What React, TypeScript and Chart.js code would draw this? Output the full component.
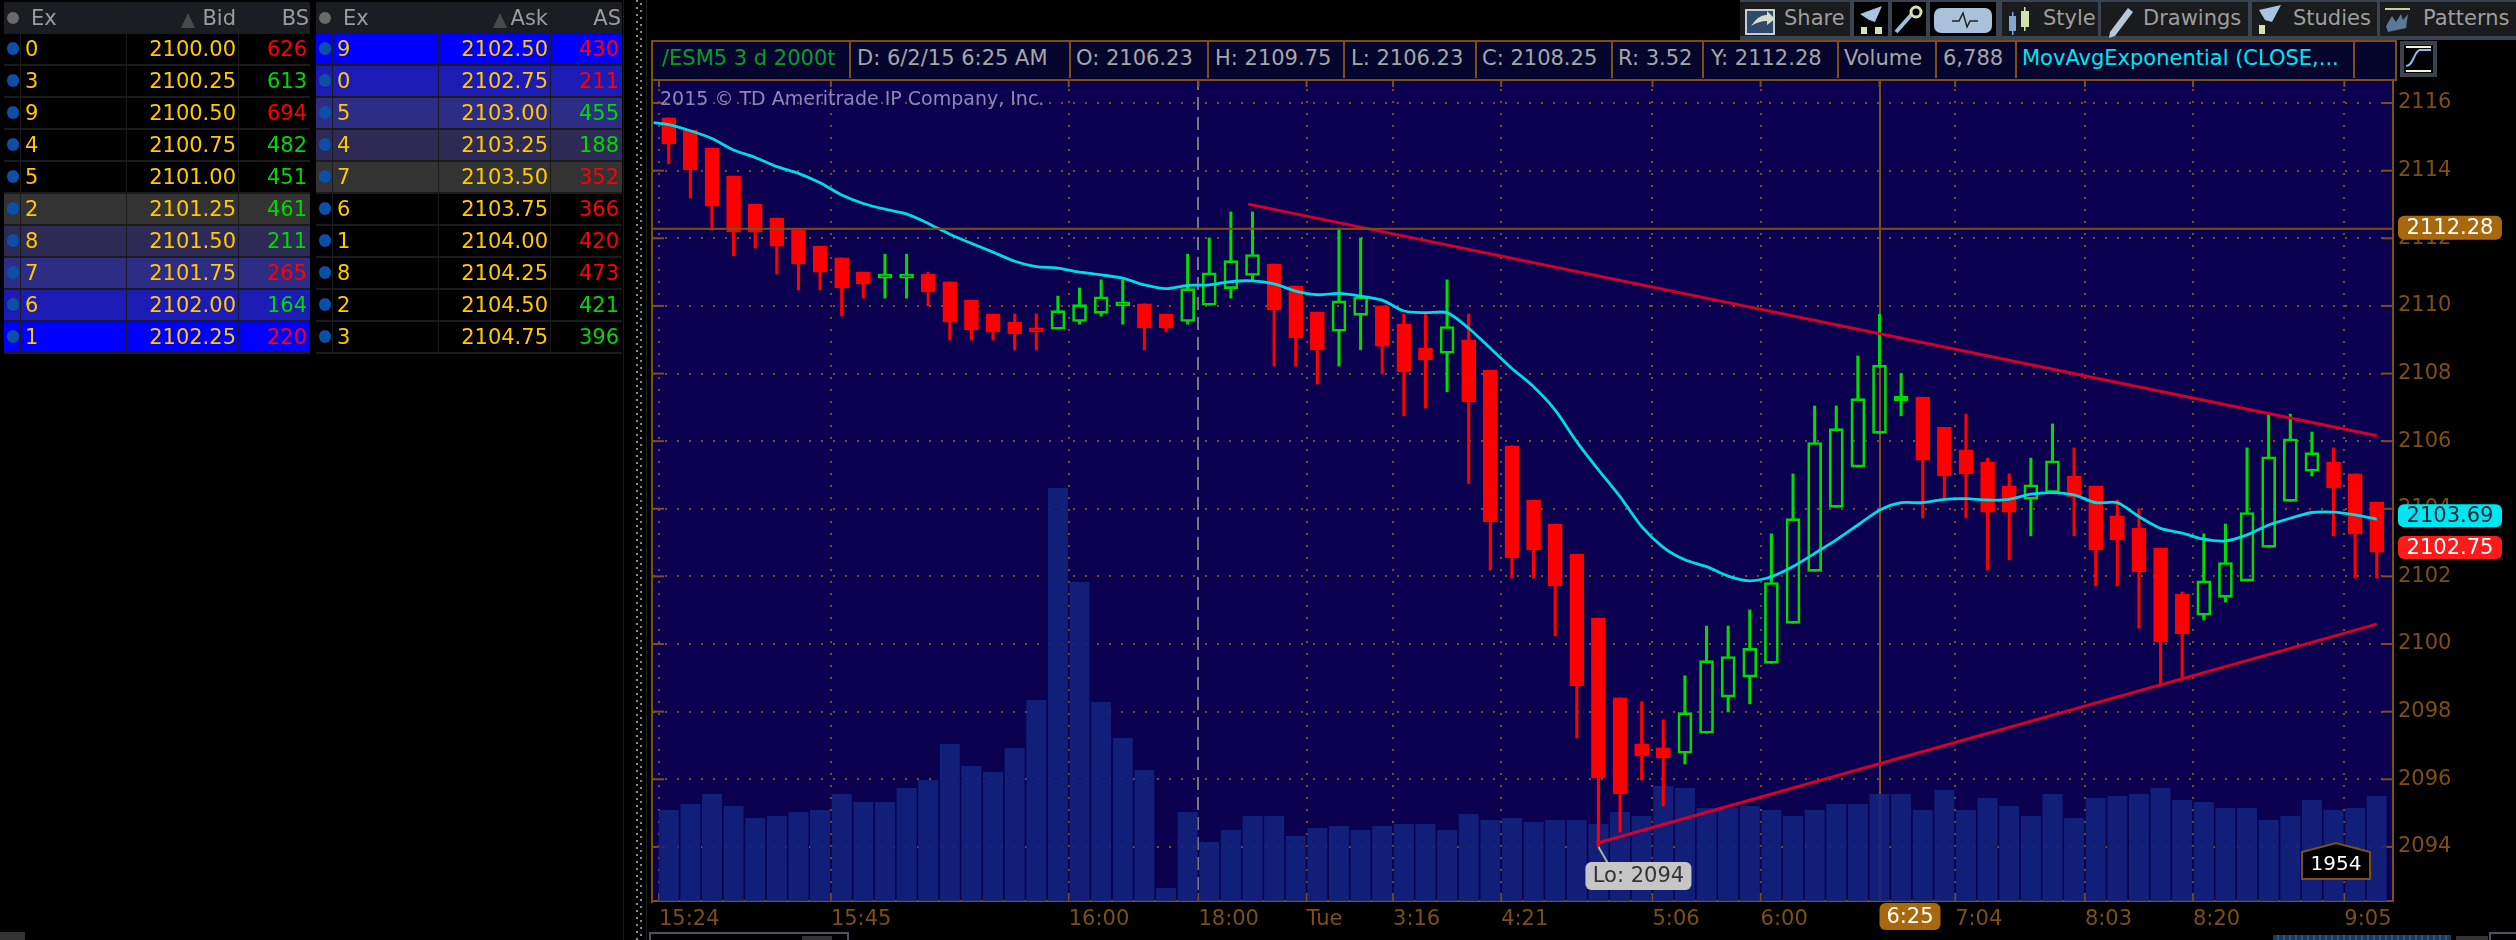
import { useEffect, useRef } from 'react';
import { Chart, registerables } from 'chart.js';
import type { CSSProperties } from 'react';

Chart.register(...registerables);

const FONT = '"DejaVu Sans"';
const BROWN = '#7d4f16';
const NAVY = '#0b004f';
const CANDLE_RED = '#ff0000';
const CANDLE_GREEN = '#00dc00';

// candles
const opens = [
  2115.56, 2115.2, 2114.67, 2113.84, 2113.01, 2112.6, 2112.24, 2111.77, 2111.42, 2111.0,
  2110.82, 2110.82, 2110.94, 2110.71, 2110.17, 2109.76, 2109.52, 2109.35, 2109.31, 2109.54,
  2109.78, 2110.0, 2110.06, 2109.76, 2109.54, 2110.02, 2110.51, 2110.9, 2111.24, 2110.59,
  2109.82, 2109.25, 2109.72, 2110.0, 2109.46, 2108.75, 2108.6, 2109.0, 2108.1, 2105.86,
  2104.26, 2103.55, 2102.66, 2100.77, 2098.41, 2097.05, 2096.93, 2096.77, 2097.36, 2098.43,
  2099.02, 2099.43, 2100.61, 2102.15, 2104.04, 2105.23, 2106.23, 2107.19, 2107.3, 2106.41,
  2105.74, 2105.38, 2104.67, 2104.28, 2104.48, 2104.97, 2104.67, 2103.79, 2103.43, 2102.84,
  2101.48, 2100.85, 2101.38, 2101.86, 2102.86, 2104.22, 2105.11, 2105.38, 2105.03, 2104.2,
];
const closes = [
  2114.79, 2114.02, 2112.95, 2112.19, 2112.19, 2111.77, 2111.24, 2111.0, 2110.53, 2110.65,
  2110.94, 2110.94, 2110.41, 2109.52, 2109.29, 2109.23, 2109.17, 2109.23, 2109.86, 2110.04,
  2110.27, 2110.12, 2109.35, 2109.35, 2110.51, 2110.98, 2111.34, 2111.52, 2109.88, 2109.05,
  2108.7, 2110.15, 2110.27, 2108.81, 2108.05, 2108.4, 2109.39, 2107.16, 2103.61, 2102.55,
  2102.78, 2101.72, 2098.76, 2096.04, 2095.57, 2096.69, 2096.63, 2097.97, 2099.51, 2099.63,
  2099.87, 2101.82, 2103.71, 2105.96, 2106.37, 2107.26, 2108.25, 2107.33, 2105.44, 2104.97,
  2105.03, 2103.9, 2103.9, 2104.71, 2105.42, 2104.36, 2102.78, 2103.08, 2102.13, 2100.06,
  2100.3, 2101.87, 2102.41, 2103.89, 2105.54, 2106.07, 2105.66, 2104.62, 2103.26, 2102.72,
];
const highs = [
  2115.56, 2115.2, 2114.67, 2113.84, 2113.01, 2112.6, 2112.24, 2111.77, 2111.42, 2111.0,
  2111.53, 2111.53, 2111.0, 2110.71, 2110.17, 2109.76, 2109.76, 2109.76, 2110.29, 2110.53,
  2110.77, 2110.77, 2110.06, 2109.76, 2111.53, 2112.01, 2112.78, 2112.78, 2111.24, 2110.59,
  2109.82, 2112.3, 2112.01, 2110.0, 2109.76, 2109.76, 2110.77, 2109.76, 2108.1, 2105.86,
  2104.26, 2103.55, 2102.66, 2100.77, 2098.41, 2098.29, 2097.76, 2099.06, 2100.53, 2100.53,
  2101.01, 2103.26, 2105.03, 2107.04, 2107.04, 2108.52, 2109.75, 2108.0, 2107.3, 2106.41,
  2106.8, 2105.5, 2105.03, 2105.5, 2106.51, 2105.8, 2104.67, 2104.26, 2104.0, 2102.84,
  2101.54, 2103.26, 2103.55, 2105.8, 2106.8, 2106.8, 2106.27, 2105.8, 2105.03, 2104.2,
];
const lows = [
  2114.2, 2113.19, 2112.24, 2111.48, 2111.71, 2110.94, 2110.47, 2110.47, 2109.7, 2110.23,
  2110.23, 2110.23, 2110.0, 2108.99, 2108.99, 2108.99, 2108.7, 2108.7, 2109.31, 2109.46,
  2109.7, 2109.46, 2108.7, 2109.23, 2109.46, 2110.02, 2110.23, 2110.77, 2108.22, 2108.22,
  2107.69, 2108.22, 2108.7, 2107.99, 2106.75, 2106.98, 2107.46, 2104.75, 2102.19, 2101.95,
  2101.95, 2100.24, 2097.22, 2094.0, 2094.44, 2095.98, 2095.21, 2096.45, 2097.36, 2097.99,
  2098.23, 2099.43, 2100.61, 2102.15, 2104.04, 2105.23, 2106.23, 2106.75, 2103.73, 2104.26,
  2103.73, 2102.19, 2102.49, 2103.2, 2104.48, 2103.2, 2101.72, 2101.72, 2100.47, 2098.76,
  2098.94, 2100.71, 2101.24, 2101.86, 2102.86, 2104.22, 2104.97, 2103.2, 2101.95, 2101.95,
];
const volumes = [
  1693, 1804, 1990, 1767, 1544, 1581, 1655, 1693, 1990, 1841,
  1841, 2102, 2251, 2920, 2511, 2399, 2846, 3739, 7682, 5933,
  3701, 3032, 2437, 242, 1655, 1097, 1321, 1581, 1581, 1209,
  1358, 1395, 1321, 1395, 1432, 1432, 1321, 1618, 1507, 1544,
  1469, 1507, 1507, 1432, 1655, 1581, 2139, 2102, 1730, 1730,
  1767, 1693, 1581, 1693, 1804, 1804, 1990, 1990, 1693, 2065,
  1693, 1916, 1767, 1581, 1990, 1544, 1916, 1953, 1990, 2102,
  1879, 1841, 1730, 1730, 1507, 1581, 1879, 1693, 1730, 1954,
];
const emaValues = [
  2115.36, 2115.18, 2114.95, 2114.61, 2114.39, 2114.12, 2113.92, 2113.64, 2113.28, 2113.03,
  2112.86, 2112.72, 2112.44, 2112.12, 2111.85, 2111.59, 2111.32, 2111.16, 2111.12, 2111.0,
  2110.92, 2110.82, 2110.62, 2110.51, 2110.61, 2110.62, 2110.72, 2110.74, 2110.65, 2110.44,
  2110.33, 2110.37, 2110.29, 2110.17, 2109.85, 2109.8, 2109.8, 2109.34, 2108.75, 2108.15,
  2107.61, 2106.92, 2105.98, 2105.15, 2104.36, 2103.47, 2102.86, 2102.49, 2102.29, 2102.01,
  2101.87, 2101.99, 2102.29, 2102.68, 2103.08, 2103.52, 2103.96, 2104.18, 2104.18, 2104.28,
  2104.3, 2104.26, 2104.28, 2104.43, 2104.48, 2104.41, 2104.18, 2104.18, 2103.77, 2103.42,
  2103.28, 2103.1, 2103.05, 2103.23, 2103.52, 2103.72, 2103.89, 2103.9, 2103.82, 2103.69,
];
// the average runs in from the left edge, before the first candle
const emaLead = { x: -0.7, y: 2115.42 };
const upperTrend = [
  { x: 26.8, y: 2113.01 },
  { x: 79, y: 2106.16 },
];
const lowerTrend = [
  { x: 42.9, y: 2094.11 },
  { x: 79, y: 2100.59 },
];

// time axis, tick sits half a bar before its candle
const timeTicks = [-0.45, 7.5, 18.5, 24.5, 29.5, 33.5, 38.5, 45.5, 50.5, 56, 59.5, 65.5, 70.5, 77.5];
const timeLabels = ['15:24', '15:45', '16:00', '18:00', 'Tue', '3:16', '4:21', '5:06', '6:00', '6:25', '7:04', '8:03', '8:20', '9:05'];
const SESSION_TICK = 24.5;
const CURSOR_TICK = 56;
const CURSOR_PRICE = 2112.28;
const EMA_LAST = 2103.69;
const LAST_PRICE = 2102.75;

// level 2 tables
const bidEx = ['0', '3', '9', '4', '5', '2', '8', '7', '6', '1'];
const bidPrices = ['2100.00', '2100.25', '2100.50', '2100.75', '2101.00', '2101.25', '2101.50', '2101.75', '2102.00', '2102.25'];
const bidSizes = [626, 613, 694, 482, 451, 461, 211, 265, 164, 220];
const bidSizeUp = [false, true, false, true, true, true, true, false, true, false];
const bidShades = ['#000', '#000', '#000', '#000', '#000', '#333', '#2d2b55', '#2d2d85', '#1c1cb4', '#0000ff'];
const askEx = ['9', '0', '5', '4', '7', '6', '1', '8', '2', '3'];
const askPrices = ['2102.50', '2102.75', '2103.00', '2103.25', '2103.50', '2103.75', '2104.00', '2104.25', '2104.50', '2104.75'];
const askSizes = [430, 211, 455, 188, 352, 366, 420, 473, 421, 396];
const askSizeUp = [false, false, true, true, false, false, false, false, true, true];
const askShades = ['#0000ff', '#1c1cb4', '#2d2d85', '#2d2b55', '#333', '#000', '#000', '#000', '#000', '#000'];

// header strip
const headerDividers = [849, 1069, 1207, 1343, 1475, 1611, 1702, 1837, 1935, 2015, 2353];
const headerTexts = [
  { x: 662, text: '/ESM5 3 d 2000t', color: '#0a9a2c' },
  { x: 857, text: 'D: 6/2/15 6:25 AM', color: '#a6a6a6' },
  { x: 1076, text: 'O: 2106.23', color: '#a6a6a6' },
  { x: 1215, text: 'H: 2109.75', color: '#a6a6a6' },
  { x: 1351, text: 'L: 2106.23', color: '#a6a6a6' },
  { x: 1482, text: 'C: 2108.25', color: '#a6a6a6' },
  { x: 1618, text: 'R: 3.52', color: '#a6a6a6' },
  { x: 1711, text: 'Y: 2112.28', color: '#a6a6a6' },
  { x: 1844, text: 'Volume', color: '#a6a6a6' },
  { x: 1943, text: '6,788', color: '#a6a6a6' },
  { x: 2022, text: 'MovAvgExponential (CLOSE,...', color: '#00e6f0' },
];
const toolbarCells = [
  { x: 1740, w: 110, label: 'Share', labelX: 1784 },
  { x: 1854, w: 34, label: '', labelX: 0 },
  { x: 1892, w: 34, label: '', labelX: 0 },
  { x: 1930, w: 66, label: '', labelX: 0 },
  { x: 2002, w: 96, label: 'Style', labelX: 2043 },
  { x: 2101, w: 147, label: 'Drawings', labelX: 2143 },
  { x: 2252, w: 125, label: 'Studies', labelX: 2293 },
  { x: 2380, w: 136, label: 'Patterns', labelX: 2423 },
];

const tag = (ctx: CanvasRenderingContext2D, x: number, y: number, w: number, h: number, fill: string, text: string, color: string) => {
  ctx.fillStyle = fill;
  ctx.beginPath();
  ctx.roundRect(x, y, w, h, 6);
  ctx.fill();
  ctx.fillStyle = color;
  ctx.font = `21px ${FONT}`;
  ctx.textAlign = 'center';
  ctx.textBaseline = 'middle';
  ctx.fillText(text, x + w / 2, y + h / 2 + 1);
};

const chartDecor = {
  id: 'chartDecor',
  beforeDraw(chart: Chart) {
    const { ctx, chartArea: a } = chart;
    ctx.save();
    ctx.fillStyle = NAVY;
    ctx.fillRect(a.left, a.top, a.right - a.left, a.bottom - a.top);
    ctx.restore();
  },
  beforeDatasetsDraw(chart: Chart) {
    const { ctx, chartArea: a, scales } = chart;
    ctx.save();
    ctx.fillStyle = BROWN;
    scales.y.ticks.forEach((t) => {
      const y = scales.y.getPixelForValue(t.value);
      ctx.fillRect(a.left, y - 1, 11, 2);
      ctx.fillRect(a.right - 11, y - 1, 11, 2);
    });
    timeTicks.forEach((v) => {
      const x = scales.x.getPixelForValue(v);
      ctx.fillRect(x - 1, a.top, 2, 10);
      ctx.fillRect(x - 1, a.bottom - 8, 2, 8);
    });
    ctx.fillRect(a.left - 2, a.top, 2, a.bottom - a.top + 2);
    // watermark sits under the candles
    ctx.fillStyle = '#8d86b8';
    ctx.font = `19px ${FONT}`;
    ctx.textAlign = 'left';
    ctx.textBaseline = 'middle';
    ctx.fillText('2015 © TD Ameritrade IP Company, Inc.', 660, 100);
    ctx.restore();
  },
  afterDraw(chart: Chart) {
    const { ctx, chartArea: a, scales } = chart;
    const px = scales.y;
    ctx.save();
    // cursor crosshair
    const cy = px.getPixelForValue(CURSOR_PRICE);
    ctx.fillStyle = BROWN;
    ctx.fillRect(a.left, cy - 1, a.right - a.left, 2);
    tag(ctx, 2398, cy - 13, 104, 24, '#a8690e', '2112.28', '#fff');
    tag(ctx, 2398, px.getPixelForValue(EMA_LAST) - 15, 104, 23, '#00e6f0', '2103.69', '#06243a');
    tag(ctx, 2398, px.getPixelForValue(LAST_PRICE) - 15, 104, 23, '#ff1a1a', '2102.75', '#fff');
    tag(ctx, scales.x.getPixelForValue(CURSOR_TICK), 903, 61, 27, '#a8690e', '6:25', '#fff');

    // session low bubble
    const lowX = scales.x.getPixelForValue(43);
    const lowY = px.getPixelForValue(lows[43]);
    ctx.strokeStyle = '#b0b0b0';
    ctx.lineWidth = 2;
    ctx.beginPath();
    ctx.moveTo(lowX, lowY);
    ctx.lineTo(lowX + 10, 864);
    ctx.stroke();
    tag(ctx, lowX - 13, 862, 106, 28, '#c6c6c6', 'Lo: 2094', '#333');

    // bar countdown
    ctx.fillStyle = '#000';
    ctx.strokeStyle = BROWN;
    ctx.beginPath();
    ctx.moveTo(2302, 879);
    ctx.lineTo(2302, 852);
    ctx.lineTo(2336, 843);
    ctx.lineTo(2370, 852);
    ctx.lineTo(2370, 879);
    ctx.closePath();
    ctx.fill();
    ctx.stroke();
    ctx.fillStyle = '#fff';
    ctx.font = `20px ${FONT}`;
    ctx.textAlign = 'center';
    ctx.textBaseline = 'middle';
    ctx.fillText('1954', 2336, 865);
    ctx.restore();
  },
};

const isUp = (i: number) => closes[i] > opens[i];
const candleColor = (ctx: { dataIndex: number }) => (isUp(ctx.dataIndex) ? CANDLE_GREEN : CANDLE_RED);

function CandleChart() {
  const canvasRef = useRef<HTMLCanvasElement | null>(null);

  useEffect(() => {
    if (!canvasRef.current) {
      return;
    }

    const chart = new Chart(canvasRef.current, {
      type: 'bar',
      plugins: [chartDecor],
      data: {
        datasets: [
          {
            label: 'Volume',
            yAxisID: 'volume',
            order: 6,
            grouped: false,
            barThickness: 20,
            inflateAmount: 0,
            backgroundColor: 'rgba(19, 35, 126, 0.88)',
            data: volumes.map((v, i) => ({ x: i, y: v })),
          },
          {
            label: 'Upper wick',
            order: 5,
            grouped: false,
            barThickness: 2.4,
            backgroundColor: candleColor,
            data: highs.map((h, i) => ({ x: i, y: [Math.max(opens[i], closes[i]), h] })),
          },
          {
            label: 'Lower wick',
            order: 5,
            grouped: false,
            barThickness: 2.4,
            backgroundColor: candleColor,
            data: lows.map((l, i) => ({ x: i, y: [l, Math.min(opens[i], closes[i])] })),
          },
          {
            label: 'Body',
            order: 4,
            grouped: false,
            barThickness: 14,
            borderWidth: 2,
            borderSkipped: false,
            borderColor: candleColor,
            backgroundColor: (ctx: { dataIndex: number }) => (isUp(ctx.dataIndex) ? 'transparent' : CANDLE_RED),
            data: opens.map((o, i) => ({ x: i, y: [o, closes[i]] })),
          },
          {
            type: 'line',
            label: 'MovAvgExponential',
            order: 3,
            borderColor: '#00dce6',
            borderWidth: 2.8,
            pointRadius: 0,
            tension: 0.25,
            data: [emaLead, ...emaValues.map((v, i) => ({ x: i, y: v }))],
          },
          {
            type: 'line',
            label: 'Upper trend',
            order: 2,
            borderColor: '#d4002a',
            borderWidth: 3,
            pointRadius: 0,
            data: upperTrend,
          },
          {
            type: 'line',
            label: 'Lower trend',
            order: 2,
            borderColor: '#d4002a',
            borderWidth: 3,
            pointRadius: 0,
            data: lowerTrend,
          },
        ],
      },
      options: {
        animation: false,
        responsive: false,
        devicePixelRatio: 1,
        events: [],
        layout: { padding: { left: 653, top: 77, right: 0, bottom: 0 } },
        plugins: { legend: { display: false }, tooltip: { enabled: false } },
        scales: {
          x: {
            type: 'linear',
            offset: false,
            min: -0.728,
            max: 79.75,
            afterBuildTicks: (axis) => {
              axis.ticks = timeTicks.map((value) => ({ value }));
            },
            afterFit: (axis) => {
              axis.height = 39;
            },
            border: {
              color: BROWN,
              width: 2,
              dash: (ctx: { tick?: { value: number } }) => {
                const v = ctx.tick?.value;
                if (v === CURSOR_TICK) return [];
                if (v === SESSION_TICK) return [13, 7];
                return [2, 10];
              },
            },
            grid: {
              offset: false,
              drawTicks: false,
              lineWidth: 2,
              color: (ctx: { tick?: { value: number } }) => (ctx.tick?.value === SESSION_TICK ? '#77777f' : BROWN),
            },
            ticks: {
              autoSkip: false,
              maxRotation: 0,
              minRotation: 0,
              align: 'start',
              padding: 6,
              color: BROWN,
              font: { family: FONT, size: 21 },
              callback: (value) => (value === CURSOR_TICK ? '' : timeLabels[timeTicks.indexOf(value as number)]),
            },
          },
          y: {
            position: 'right',
            min: 2092.4,
            max: 2116.77,
            afterFit: (axis) => {
              axis.width = 123;
            },
            border: { color: BROWN, width: 2, dash: [2, 10] },
            grid: { drawTicks: false, lineWidth: 2, color: BROWN },
            ticks: {
              stepSize: 2,
              includeBounds: false,
              padding: 5,
              color: BROWN,
              font: { family: FONT, size: 21 },
              callback: (value) => String(value),
            },
          },
          volume: {
            display: false,
            min: 0,
            max: 15326,
          },
        },
      },
    });

    return () => {
      chart.destroy();
    };
  }, []);

  return <canvas ref={canvasRef} width={2516} height={940} style={{ position: 'absolute', left: 0, top: 0 }} />;
}

const box = (x: number, y: number, w: number, h: number, background: string): CSSProperties => ({
  position: 'absolute',
  left: x,
  top: y,
  width: w,
  height: h,
  background,
});

const textAt = (x: number, y: number, color: string, right = false): CSSProperties => ({
  position: 'absolute',
  top: y,
  color,
  font: `21px ${FONT}`,
  lineHeight: '30px',
  whiteSpace: 'nowrap',
  ...(right ? { right: 2516 - x } : { left: x }),
});

interface BookProps {
  readonly left: number;
  readonly title: string;
  readonly sizeTitle: string;
  readonly ex: string[];
  readonly prices: string[];
  readonly sizes: number[];
  readonly sizeUp: boolean[];
  readonly shades: string[];
}

function Book({ left, title, sizeTitle, ex, prices, sizes, sizeUp, shades }: BookProps) {
  const cols = [
    { x: 0, w: 16 },
    { x: 17, w: 105 },
    { x: 123, w: 111 },
    { x: 235, w: 71 },
  ];
  return (
    <>
      <div style={box(left, 2, 306, 352, '#1b1b1b')} />
      {cols.map((c) => (
        <div key={c.x} style={box(left + c.x, 3, c.w, 30, '#1a1e22')} />
      ))}
      <div style={{ ...box(left + 3, 12, 12, 12, '#6a6a6a'), borderRadius: 6 }} />
      <span style={textAt(left + 27, 3, '#9c9c9c')}>Ex</span>
      <span style={textAt(left + 232, 3, '#9c9c9c', true)}>{title}</span>
      <span
        style={{
          position: 'absolute',
          left: left + 177,
          top: 13,
          width: 0,
          height: 0,
          borderLeft: '7px solid transparent',
          borderRight: '7px solid transparent',
          borderBottom: '15px solid #4a4a4a',
        }}
      />
      <span style={textAt(left + 305, 3, '#9c9c9c', true)}>{sizeTitle}</span>
      {prices.map((price, i) => {
        const top = 34 + i * 32;
        return (
          <div key={price}>
            {cols.map((c) => (
              <div key={c.x} style={box(left + c.x, top, c.w, 30, shades[i])} />
            ))}
            <div style={{ ...box(left + 3, top + 8, 12, 13, '#0c4fa6'), borderRadius: 7 }} />
            <span style={textAt(left + 21, top, '#ffc800')}>{ex[i]}</span>
            <span style={textAt(left + 232, top, '#ffc800', true)}>{price}</span>
            <span style={textAt(left + 303, top, sizeUp[i] ? '#00d800' : '#ff0000', true)}>{sizes[i]}</span>
          </div>
        );
      })}
    </>
  );
}

function ToolIcons() {
  return (
    <svg style={{ position: 'absolute', left: 0, top: 0 }} width={2516} height={85}>
      <rect x={1746} y={10} width={28} height={24} fill="#2f4a6a" stroke="#c5cfd8" strokeWidth={2} />
      <path d="M1751 26 q8 -12 16 -11 l0 -4 l8 8 l-8 6 l0 -4 q-8 0 -16 5" fill="#d8dcc8" />
      <path d="M1860 14 l22 -8 l-7 16 l-6 -2 z" fill="#a8c4de" />
      <rect x={1861} y={27} width={6} height={7} fill="#d8e0b0" />
      <rect x={1875} y={27} width={7} height={7} fill="#d8e0b0" />
      <path d="M1896 32 l16 -18" stroke="#9cc0e0" strokeWidth={4} />
      <circle cx={1916} cy={12} r={5} fill="none" stroke="#d8e0b0" strokeWidth={3} />
      <rect x={1934} y={8} width={58} height={25} rx={7} fill="#a9c2da" />
      <path d="M1952 21 h7 l4 -8 l4 14 l3 -6 h8" fill="none" stroke="#222" strokeWidth={1.5} />
      <rect x={2009} y={16} width={7} height={15} fill="#7fa6cf" />
      <rect x={2012} y={12} width={1.5} height={23} fill="#7fa6cf" />
      <rect x={2021} y={11} width={8} height={16} fill="#d3e0b4" />
      <rect x={2024} y={7} width={1.5} height={24} fill="#d3e0b4" />
      <path d="M2110 32 l18 -24 l5 4 l-18 24 l-6 2 z" fill="#b7c8dc" />
      <path d="M2259 10 l22 -5 l-9 17 l-7 -2 z" fill="#a8c4de" />
      <rect x={2259} y={25} width={6} height={9} fill="#d8e0b0" />
      <rect x={2385} y={8} width={25} height={2} fill="#c8d0a0" />
      <path d="M2386 26 l6 -10 l4 6 l5 -8 l2 6 l5 -6 l-2 14 l-18 4 z" fill="#5a7898" />
      <rect x={2400} y={41} width={37} height={36} fill="#39434e" />
      <rect x={2404} y={45} width={29} height={28} fill="#000" />
      <rect x={2406} y={46} width={25} height={2} fill="#f6f6d8" />
      <rect x={2406} y={70} width={25} height={2} fill="#f6f6d8" />
      <path d="M2406 66 c8 0 8 -16 14 -16 h11" fill="none" stroke="#7fc0f0" strokeWidth={2} />
    </svg>
  );
}

export default function App() {
  return (
    <div style={{ position: 'fixed', left: 0, top: 0, width: 2516, height: 940, background: '#000', overflow: 'hidden' }}>
      <CandleChart />
      <Book left={4} title="Bid" sizeTitle="BS" ex={bidEx} prices={bidPrices} sizes={bidSizes} sizeUp={bidSizeUp} shades={bidShades} />
      <Book left={316} title="Ask" sizeTitle="AS" ex={askEx} prices={askPrices} sizes={askSizes} sizeUp={askSizeUp} shades={askShades} />

      {/* splitter */}
      <div style={box(623, 0, 1, 940, '#1a1a1a')} />
      <div style={box(646, 0, 1, 940, '#1a1a1a')} />
      <div style={{ ...box(636, 0, 2, 940, 'repeating-linear-gradient(#8a8a8a 0 2px, transparent 2px 7px)') }} />
      <div style={{ ...box(640, 3, 2, 937, 'repeating-linear-gradient(#8a8a8a 0 2px, transparent 2px 7px)') }} />

      {/* header strip */}
      <div style={{ ...box(651, 40, 1742, 37, '#05052e'), boxSizing: 'content-box', borderTop: `2px solid ${BROWN}`, borderLeft: `2px solid ${BROWN}`, borderRight: `2px solid ${BROWN}`, borderBottom: `2px solid ${BROWN}` }} />
      {headerDividers.map((x) => (
        <div key={x} style={box(x, 41, 2, 37, BROWN)} />
      ))}
      {headerTexts.map((h) => (
        <span key={h.x} style={textAt(h.x, 43, h.color)}>
          {h.text}
        </span>
      ))}

      {/* toolbar */}
      <div style={box(1740, 0, 776, 40, '#3a4450')} />
      {toolbarCells.map((c) => (
        <div key={c.x}>
          <div style={box(c.x, 2, c.w, 34, c.label ? '#1a1b1c' : '#000')} />
          {c.label ? <span style={textAt(c.labelX, 3, '#9e9e9e')}>{c.label}</span> : null}
        </div>
      ))}
      <ToolIcons />

      {/* bottom strip */}
      <div style={box(0, 932, 25, 8, '#333')} />
      <div style={{ ...box(649, 932, 196, 10, 'transparent'), borderTop: '2px solid #4a5562', borderLeft: '2px solid #4a5562', borderRight: '2px solid #4a5562' }} />
      <div style={box(802, 936, 30, 4, '#333')} />
      <div style={box(2273, 935, 178, 5, 'repeating-linear-gradient(90deg, #1e3a5c 0 4px, #2f5580 4px 6px)')} />
      <div style={box(2456, 936, 32, 4, '#333')} />
      <div style={{ ...box(2489, 932, 27, 8, 'transparent'), borderTop: '2px solid #4a5562', borderLeft: '2px solid #4a5562' }} />
    </div>
  );
}
